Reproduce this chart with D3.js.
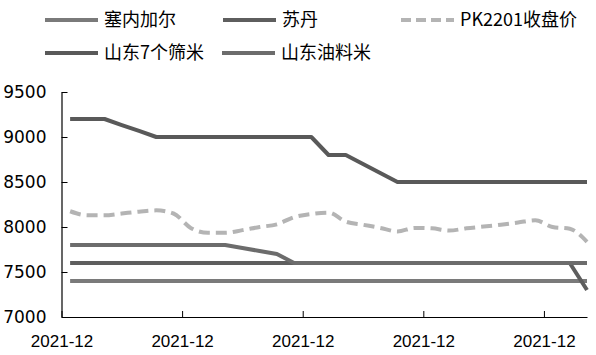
<!DOCTYPE html>
<html>
<head>
<meta charset="utf-8">
<script src="https://cdn.jsdelivr.net/npm/d3@7"></script>
<style>
  html, body { margin: 0; padding: 0; background: #fff; }
  svg { display: block; }
</style>
</head>
<body>
<svg id="chart" width="596" height="355"></svg>
<script>
// ---- data ----
const seriesNames = ["塞内加尔", "苏丹", "PK2201收盘价", "山东7个筛米", "山东油料米"];
const xTickLabels = ["2021-12", "2021-12", "2021-12", "2021-12", "2021-12"];
const yTicks = [7000, 7500, 8000, 8500, 9000, 9500];

const senegal = [7400,7400,7400,7400,7400,7400,7400,7400,7400,7400,7400,7400,7400,7400,7400,7400,
                 7400,7400,7400,7400,7400,7400,7400,7400,7400,7400,7400,7400,7400,7400,7400];
const sudan   = [7600,7600,7600,7600,7600,7600,7600,7600,7600,7600,7600,7600,7600,7600,7600,7600,
                 7600,7600,7600,7600,7600,7600,7600,7600,7600,7600,7600,7600,7600,7600,7300];
const pk2201  = [8175,8130,8130,8150,8170,8185,8150,7990,7935,7935,7965,8000,8030,8110,8145,8160,
                 8060,8025,7990,7950,7990,7985,7960,7985,8005,8025,8050,8075,8000,7980,7835];
const sd7     = [9200,9200,9200,9133,9067,9000,9000,9000,9000,9000,9000,9000,9000,9000,9000,8800,
                 8800,8700,8600,8500,8500,8500,8500,8500,8500,8500,8500,8500,8500,8500,8500];
const sdOil   = [7800,7800,7800,7800,7800,7800,7800,7800,7800,7800,7767,7733,7700,7600,7600,7600,
                 7600,7600,7600,7600,7600,7600,7600,7600,7600,7600,7600,7600,7600,7600,7600];

const colors = ["#7a7a7a", "#5e5e5e", "#b4b4b4", "#595959", "#6c6c6c"];
const dashed = [false, false, true, false, false];
const values = [senegal, sudan, pk2201, sd7, sdOil];

// ---- layout ----
const svg = d3.select("#chart");
const x = d3.scaleLinear().domain([-0.5, 30]).range([61.5, 587]);
const y = d3.scaleLinear().domain([7000, 9500]).range([317, 92]);

// y axis
const yAxis = d3.axisLeft(y).tickValues(yTicks).tickSizeInner(-6).tickSizeOuter(0).tickPadding(15)
  .tickFormat(d3.format("d"));
const gy = svg.append("g").attr("transform", "translate(61.5,0)").call(yAxis);
gy.select(".domain").attr("stroke", "#000").attr("stroke-width", 1.2);
gy.selectAll(".tick line").attr("stroke", "#000");
gy.selectAll("text").attr("font-family", "DejaVu Sans, sans-serif").attr("font-size", 17).attr("fill", "#000");

// x axis
const xTickVals = [-0.5, 6.5, 13.5, 20.5, 27.5];
const xAxis = d3.axisBottom(x).tickValues(xTickVals).tickSizeInner(-6).tickSizeOuter(0).tickPadding(18)
  .tickFormat((d, i) => xTickLabels[i]);
const gx = svg.append("g").attr("transform", "translate(0,317)").call(xAxis);
gx.select(".domain").attr("stroke", "#000").attr("stroke-width", 1.2);
gx.selectAll(".tick line").attr("stroke", "#000");
gx.selectAll("text").attr("font-family", "Liberation Sans, Arial, sans-serif").attr("font-size", 17).attr("fill", "#000");

// lines
values.forEach((vals, k) => {
  const gen = d3.line().x((d, i) => x(i)).y(d => y(d));
  if (dashed[k]) gen.curve(d3.curveMonotoneX);
  svg.append("path")
    .datum(vals)
    .attr("d", gen)
    .attr("fill", "none")
    .attr("stroke", colors[k])
    .attr("stroke-width", 4)
    .attr("stroke-linejoin", "round")
    .attr("stroke-dasharray", dashed[k] ? "11,6" : null);
});

// legend
const legendPos = [
  {sx: 45, y: 20}, {sx: 223, y: 20}, {sx: 401, y: 20},
  {sx: 45, y: 53}, {sx: 222, y: 53}
];
seriesNames.forEach((name, k) => {
  const p = legendPos[k];
  const g = svg.append("g");
  g.append("line")
    .attr("x1", p.sx).attr("x2", p.sx + 53)
    .attr("y1", p.y).attr("y2", p.y)
    .attr("stroke", colors[k]).attr("stroke-width", 4)
    .attr("stroke-dasharray", dashed[k] ? "10,5" : null);
  g.append("text")
    .attr("x", p.sx + 59).attr("y", p.y)
    .attr("dy", "0.35em")
    .attr("font-family", "Noto Sans CJK SC, sans-serif")
    .attr("font-size", 18)
    .attr("fill", "#000")
    .text(name);
});
</script>
</body>
</html>
